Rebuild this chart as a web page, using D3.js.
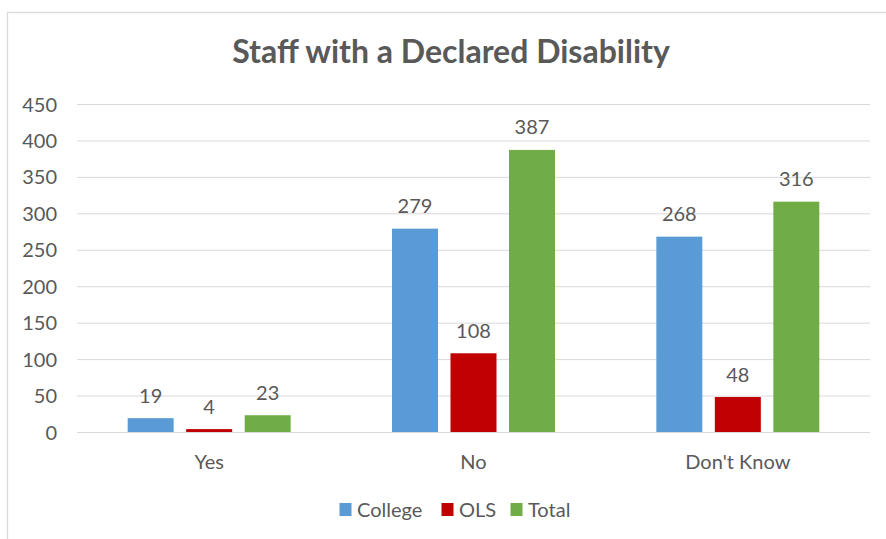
<!DOCTYPE html>
<html><head><meta charset="utf-8">
<script src="https://cdn.jsdelivr.net/npm/d3@7"></script>
<style>body{margin:0;background:#fff;} svg{display:block;} text{font-family:Lato, "Open Sans", sans-serif;}</style>
</head><body>
<svg id="c" width="886" height="539"></svg>
<script>
const categories = ["Yes", "No", "Don't Know"];
const seriesNames = ["College", "OLS", "Total"];
const college = [19, 279, 268];
const ols = [4, 108, 48];
const total = [23, 387, 316];
const yTicks = [0, 50, 100, 150, 200, 250, 300, 350, 400, 450];
const colors = ["#5B9BD5", "#C00000", "#70AD47"];
const title = "Staff with a Declared Disability";

const svg = d3.select("#c");
const textColor = "#595959";
const M = {left: 77, right: 870, top: 104, bottom: 432};

// chart border
svg.append("rect").attr("x", 7.5).attr("y", 12.5).attr("width", 900).attr("height", 600)
  .attr("fill", "#fff").attr("stroke", "#D9D9D9").attr("stroke-width", 1.3);

const x0 = d3.scaleBand().domain(categories).range([M.left, M.right]).paddingInner(0).paddingOuter(0);
const y = d3.scaleLinear().domain([0, 450]).range([M.bottom, M.top]);
const barW = 46, gap = 12.5;
const x1 = d3.scaleOrdinal().domain(seriesNames).range([-(barW + gap), 0, barW + gap]);

// grid
const yAxis = d3.axisLeft(y).tickValues(yTicks).tickSize(-(M.right - M.left)).tickPadding(20);
const gy = svg.append("g").attr("transform", `translate(${M.left},0)`).call(yAxis);
gy.select(".domain").remove();
gy.selectAll(".tick line").attr("stroke", "#D9D9D9").attr("stroke-width", 1);
gy.selectAll(".tick text").attr("fill", textColor).style("font-size", "20px").attr("dy", "0.35em");

// x axis labels
const xAxis = d3.axisBottom(x0).tickSize(0).tickPadding(23);
const gx = svg.append("g").attr("transform", `translate(0,${M.bottom})`).call(xAxis);
gx.select(".domain").remove();
gx.selectAll(".tick text").attr("fill", textColor).style("font-size", "20px");

const data = [college, ols, total];
seriesNames.forEach((s, si) => {
  const g = svg.append("g");
  categories.forEach((c, ci) => {
    const v = data[si][ci];
    const cx = x0(c) + x0.bandwidth() / 2 + x1(s);
    g.append("rect").attr("x", cx - barW / 2).attr("y", y(v)).attr("width", barW)
      .attr("height", y(0) - y(v)).attr("fill", colors[si]);
    g.append("text").attr("x", cx).attr("y", y(v) - 15.5).attr("text-anchor", "middle")
      .attr("fill", textColor).style("font-size", "20px").text(v);
  });
});

// title
svg.append("text").attr("x", 451).attr("y", 63).attr("text-anchor", "middle")
  .attr("fill", textColor).style("font-size", "32px").style("font-weight", "bold").text(title);

// legend
const legX = [339.5, 441.5, 510.5];
seriesNames.forEach((s, i) => {
  svg.append("rect").attr("x", legX[i]).attr("y", 503).attr("width", 12).attr("height", 13).attr("fill", colors[i]);
  svg.append("text").attr("x", legX[i] + 17.5).attr("y", 516.5).attr("fill", textColor)
    .style("font-size", "20px").text(s);
});
</script>
</body></html>
